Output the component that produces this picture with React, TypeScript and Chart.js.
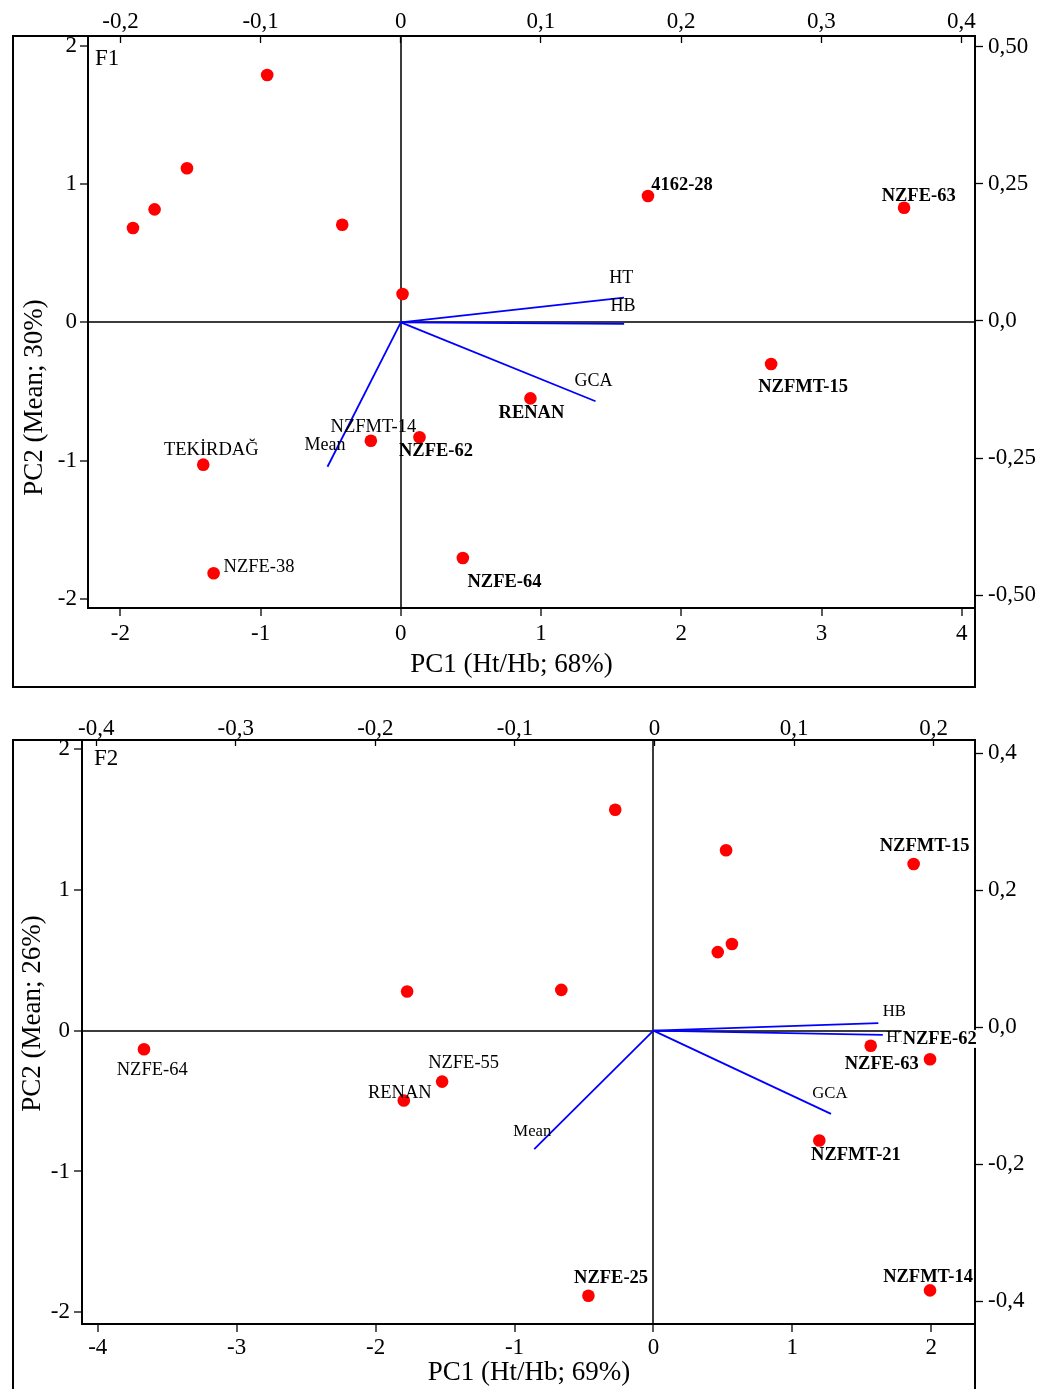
import { useEffect, useRef } from 'react';
import { Chart, registerables } from 'chart.js';

Chart.register(...registerables);

const FONT = "'Liberation Serif', 'Times New Roman', serif";

// ---------------- F1 data ----------------
const f1Genotypes = ['', '', '', '', '', '', '4162-28', 'NZFE-63', 'NZFMT-15', 'RENAN', 'NZFE-62', 'NZFMT-14', 'TEKİRDAĞ', 'NZFE-38', 'NZFE-64'];
const f1PC1 = [-0.953, -1.525, -1.756, -1.91, -0.418, 0.012, 1.762, 3.588, 2.64, 0.924, 0.133, -0.214, -1.409, -1.335, 0.442];
const f1PC2 = [1.788, 1.114, 0.817, 0.682, 0.706, 0.205, 0.913, 0.829, -0.301, -0.549, -0.83, -0.855, -1.028, -1.813, -1.702];
const f1Traits = ['HT', 'HB', 'GCA', 'Mean'];
const f1TraitPC1 = [1.591, 1.592, 1.388, -0.523];
const f1TraitPC2 = [0.179, -0.01, -0.57, -1.043];
const f1BottomTicks = [-2, -1, 0, 1, 2, 3, 4];
const f1BottomLabels = ['-2', '-1', '0', '1', '2', '3', '4'];
const f1LeftTicks = [-2, -1, 0, 1, 2];
const f1LeftLabels = ['-2', '-1', '0', '1', '2'];
const f1TopTicks = [-0.2, -0.1, 0, 0.1, 0.2, 0.3, 0.4];
const f1TopLabels = ['-0,2', '-0,1', '0', '0,1', '0,2', '0,3', '0,4'];
const f1RightTicks = [-0.5, -0.25, 0, 0.25, 0.5];
const f1RightLabels = ['-0,50', '-0,25', '0,0', '0,25', '0,50'];

// ---------------- F2 data ----------------
const f2Genotypes = ['', '', 'NZFMT-15', '', '', '', '', 'NZFE-64', 'NZFE-55', 'RENAN', 'NZFE-63', 'NZFE-62', 'NZFMT-21', 'NZFE-25', 'NZFMT-14'];
const f2PC1 = [-0.275, 0.523, 1.873, 0.565, 0.463, -0.663, -1.773, -3.667, -1.521, -1.797, 1.564, 1.991, 1.194, -0.468, 1.991];
const f2PC2 = [1.568, 1.28, 1.183, 0.615, 0.557, 0.289, 0.277, -0.132, -0.362, -0.496, -0.108, -0.203, -0.78, -1.882, -1.844];
const f2Traits = ['HB', 'HT', 'GCA', 'Mean'];
const f2TraitPC1 = [1.619, 1.651, 1.278, -0.858];
const f2TraitPC2 = [0.053, -0.03, -0.591, -0.841];
const f2BottomTicks = [-4, -3, -2, -1, 0, 1, 2];
const f2BottomLabels = ['-4', '-3', '-2', '-1', '0', '1', '2'];
const f2LeftTicks = [-2, -1, 0, 1, 2];
const f2LeftLabels = ['-2', '-1', '0', '1', '2'];
const f2TopTicks = [-0.4, -0.3, -0.2, -0.1, 0, 0.1, 0.2];
const f2TopLabels = ['-0,4', '-0,3', '-0,2', '-0,1', '0', '0,1', '0,2'];
const f2RightTicks = [-0.4, -0.2, 0, 0.2, 0.4];
const f2RightLabels = ['-0,4', '-0,2', '0,0', '0,2', '0,4'];

// ---------------- label placement (pixel offsets, styles) ----------------
type LabelPos = { dx: number; dy: number; bold?: boolean; bg?: boolean } | null;

const f1LabelLayout: LabelPos[] = [
  null, null, null, null, null, null,
  { dx: 34, dy: -11, bold: true },
  { dx: 14.6, dy: -11, bold: true },
  { dx: 32, dy: 23.5, bold: true },
  { dx: 1, dy: 14.7, bold: true },
  { dx: 16.5, dy: 13.5, bold: true },
  { dx: 2.6, dy: -14 },
  { dx: 8, dy: -14.7 },
  { dx: 45.4, dy: -6 },
  { dx: 41.6, dy: 24.5, bold: true },
];
const f1TraitLayout: LabelPos[] = [
  { dx: -2.7, dy: -19.4 },
  { dx: -1.2, dy: -17.5 },
  { dx: -2, dy: -20.3 },
  { dx: -2.6, dy: -21.2 },
];

const f2LabelLayout: LabelPos[] = [
  null, null,
  { dx: 11, dy: -17.3, bold: true },
  null, null, null, null,
  { dx: 8.2, dy: 20.7 },
  { dx: 21.5, dy: -18.7 },
  { dx: -4, dy: -7.7 },
  { dx: 11, dy: 18.5, bold: true },
  { dx: 9.6, dy: -20.3, bold: true, bg: true },
  { dx: 36.6, dy: 14.6, bold: true },
  { dx: 22.7, dy: -18, bold: true },
  { dx: -2, dy: -12.7, bold: true },
];
const f2TraitLayout: LabelPos[] = [
  { dx: 16, dy: -12 },
  { dx: 14.6, dy: 3 },
  { dx: -1.1, dy: -19.8 },
  { dx: -1.9, dy: -17.6 },
];

const f1Panel = {
  tag: 'F1',
  names: f1Genotypes, pc1: f1PC1, pc2: f1PC2,
  traits: f1Traits, tpc1: f1TraitPC1, tpc2: f1TraitPC2,
  xRange: [-2.2307, 4.0937], yRange: [-2.0637, 2.0696],
  x2Range: [-0.2232, 0.4097], y2Range: [-0.523, 0.5193],
  xTicks: f1BottomTicks, xLabels: f1BottomLabels,
  yTicks: f1LeftTicks, yLabels: f1LeftLabels,
  x2Ticks: f1TopTicks, x2Labels: f1TopLabels,
  y2Ticks: f1RightTicks, y2Labels: f1RightLabels,
  box: { left: 88, top: 36, right: 80, bottom: 92 },
  pad: { bottom: 4, top: 7, left: 3, right: 5 },
  topTickLen: -7,
  frame: [13, 36, 975, 687],
  xTitle: 'PC1 (Ht/Hb; 68%)', xTitlePos: [511.5, 665],
  yTitle: 'PC2 (Mean; 30%)', yTitlePos: [35, 397.5],
  tagPos: [95, 59],
  labelLayout: f1LabelLayout, traitLayout: f1TraitLayout, traitFont: 18,
};

const f2Panel = {
  tag: 'F2',
  names: f2Genotypes, pc1: f2PC1, pc2: f2PC2,
  traits: f2Traits, tpc1: f2TraitPC1, tpc2: f2TraitPC2,
  xRange: [-4.1132, 2.3147], yRange: [-2.0827, 2.0627],
  x2Range: [-0.4102, 0.2296], y2Range: [-0.433, 0.4194],
  xTicks: f2BottomTicks, xLabels: f2BottomLabels,
  yTicks: f2LeftTicks, yLabels: f2LeftLabels,
  x2Ticks: f2TopTicks, x2Labels: f2TopLabels,
  y2Ticks: f2RightTicks, y2Labels: f2RightLabels,
  box: { left: 82, top: 40, right: 80, bottom: 65 },
  pad: { bottom: 2, top: 3, left: 4, right: 5 },
  topTickLen: -6,
  frame: [13, 40, 975, 760],
  xTitle: 'PC1 (Ht/Hb; 69%)', xTitlePos: [529, 673],
  yTitle: 'PC2 (Mean; 26%)', yTitlePos: [33, 313.5],
  tagPos: [94, 59],
  labelLayout: f2LabelLayout, traitLayout: f2TraitLayout, traitFont: 16.7,
};

function makeChart(canvas: HTMLCanvasElement, p: any) {
  const points = p.pc1.map((x: number, i: number) => ({ x, y: p.pc2[i] }));
  const vectors = p.traits.map((t: string, i: number) => ({
    label: t,
    data: [{ x: 0, y: 0 }, { x: p.tpc1[i], y: p.tpc2[i] }],
    showLine: true,
    borderColor: '#0000ff',
    borderWidth: 1.8,
    pointRadius: 0,
    pointHoverRadius: 0,
    fill: false,
    xAxisID: 'x',
    yAxisID: 'y',
  }));
  const fixTicks = (vals: number[]) => (scale: any) => {
    scale.ticks = vals.map((v) => ({ value: v }));
  };
  const labelsFrom = (labels: string[]) => (_v: any, i: number) => labels[i];
  const tickFont = { family: FONT, size: 23 };
  const zeroGrid = (ctx: any) => (ctx.tick && ctx.tick.value === 0 ? '#3c3c3c' : 'rgba(0,0,0,0)');
  const border = { display: true, color: '#000', width: 2 };

  const overlay = {
    id: 'overlay-' + p.tag,
    afterDraw(chart: any) {
      const ctx = chart.ctx;
      const xs = chart.scales.x;
      const ys = chart.scales.y;
      ctx.save();
      // frame
      ctx.strokeStyle = '#000';
      ctx.lineWidth = 2;
      const [fl, ft, fr, fb] = p.frame;
      ctx.strokeRect(fl, ft, fr - fl, fb - ft);
      ctx.fillStyle = '#000';
      ctx.textAlign = 'center';
      ctx.textBaseline = 'middle';
      // trait labels
      ctx.font = `${p.traitFont}px ${FONT}`;
      p.traits.forEach((t: string, i: number) => {
        const l = p.traitLayout[i];
        if (!l) return;
        const px = xs.getPixelForValue(p.tpc1[i]) + l.dx;
        const py = ys.getPixelForValue(p.tpc2[i]) + l.dy;
        ctx.fillText(t, px, py);
      });
      // genotype labels
      p.names.forEach((n: string, i: number) => {
        const l = p.labelLayout[i];
        if (!l || !n) return;
        ctx.font = `${l.bold ? 'bold ' : ''}18.5px ${FONT}`;
        const px = xs.getPixelForValue(p.pc1[i]) + l.dx;
        const py = ys.getPixelForValue(p.pc2[i]) + l.dy;
        if (l.bg) {
          const w = ctx.measureText(n).width;
          ctx.fillStyle = '#fff';
          ctx.fillRect(px - w / 2 - 1, py - 9, w + 2, 18);
          ctx.fillStyle = '#000';
        }
        ctx.fillText(n, px, py);
      });
      // panel tag
      ctx.font = `23px ${FONT}`;
      ctx.textAlign = 'left';
      ctx.fillText(p.tag, p.tagPos[0], p.tagPos[1]);
      // axis titles
      ctx.font = `27px ${FONT}`;
      ctx.textAlign = 'center';
      ctx.fillText(p.xTitle, p.xTitlePos[0], p.xTitlePos[1]);
      ctx.translate(p.yTitlePos[0], p.yTitlePos[1]);
      ctx.rotate(-Math.PI / 2);
      ctx.fillText(p.yTitle, 0, 0);
      ctx.restore();
    },
  };

  return new Chart(canvas, {
    type: 'scatter',
    data: {
      datasets: [
        {
          label: 'genotypes',
          data: points,
          backgroundColor: '#ff0000',
          borderColor: '#ff0000',
          pointRadius: 6.3,
          pointBorderWidth: 0,
          pointHoverRadius: 6.3,
          xAxisID: 'x',
          yAxisID: 'y',
        },
        ...vectors,
      ],
    },
    options: {
      animation: false,
      responsive: false,
      events: [],
      layout: { padding: 0 },
      plugins: { legend: { display: false }, tooltip: { enabled: false } },
      scales: {
        x: {
          type: 'linear', position: 'bottom',
          min: p.xRange[0], max: p.xRange[1],
          afterBuildTicks: fixTicks(p.xTicks),
          afterFit: (s: any) => { s.height = p.box.bottom; },
          ticks: { font: tickFont, color: '#000', padding: p.pad.bottom, autoSkip: false, maxRotation: 0, callback: labelsFrom(p.xLabels) },
          grid: { drawOnChartArea: true, color: zeroGrid, lineWidth: 2, drawTicks: true, tickLength: 8, tickColor: '#000', tickWidth: 1.3 },
          border,
        },
        y: {
          type: 'linear', position: 'left',
          min: p.yRange[0], max: p.yRange[1],
          afterBuildTicks: fixTicks(p.yTicks),
          afterFit: (s: any) => { s.width = p.box.left; },
          ticks: { font: tickFont, color: '#000', padding: p.pad.left, autoSkip: false, callback: labelsFrom(p.yLabels) },
          grid: { drawOnChartArea: true, color: zeroGrid, lineWidth: 2, drawTicks: true, tickLength: 8, tickColor: '#000', tickWidth: 1.3 },
          border,
        },
        x2: {
          type: 'linear', position: 'top',
          min: p.x2Range[0], max: p.x2Range[1],
          afterBuildTicks: fixTicks(p.x2Ticks),
          afterFit: (s: any) => { s.height = p.box.top; },
          ticks: { font: tickFont, color: '#000', padding: p.pad.top, autoSkip: false, maxRotation: 0, callback: labelsFrom(p.x2Labels) },
          grid: { drawOnChartArea: false, drawTicks: true, tickLength: p.topTickLen, tickColor: '#000', tickWidth: 1.3 },
          border,
        },
        y2: {
          type: 'linear', position: 'right',
          min: p.y2Range[0], max: p.y2Range[1],
          afterBuildTicks: fixTicks(p.y2Ticks),
          afterFit: (s: any) => { s.width = p.box.right; },
          ticks: { font: tickFont, color: '#000', padding: p.pad.right, autoSkip: false, callback: labelsFrom(p.y2Labels) },
          grid: { drawOnChartArea: false, drawTicks: true, tickLength: 8, tickColor: '#000', tickWidth: 1.3 },
          border,
        },
      },
    } as any,
    plugins: [overlay],
  });
}

export default function App() {
  const r1 = useRef<HTMLCanvasElement>(null);
  const r2 = useRef<HTMLCanvasElement>(null);
  useEffect(() => {
    const c1 = makeChart(r1.current as HTMLCanvasElement, f1Panel);
    const c2 = makeChart(r2.current as HTMLCanvasElement, f2Panel);
    return () => {
      c1.destroy();
      c2.destroy();
    };
  }, []);
  return (
    <div style={{ position: 'absolute', left: 0, top: 0, width: 1055, height: 1389, overflow: 'hidden', background: '#fff' }}>
      <canvas ref={r1} width={1055} height={700} style={{ position: 'absolute', left: 0, top: 0, width: 1055, height: 700 }} />
      <canvas ref={r2} width={1055} height={689} style={{ position: 'absolute', left: 0, top: 700, width: 1055, height: 689 }} />
    </div>
  );
}
